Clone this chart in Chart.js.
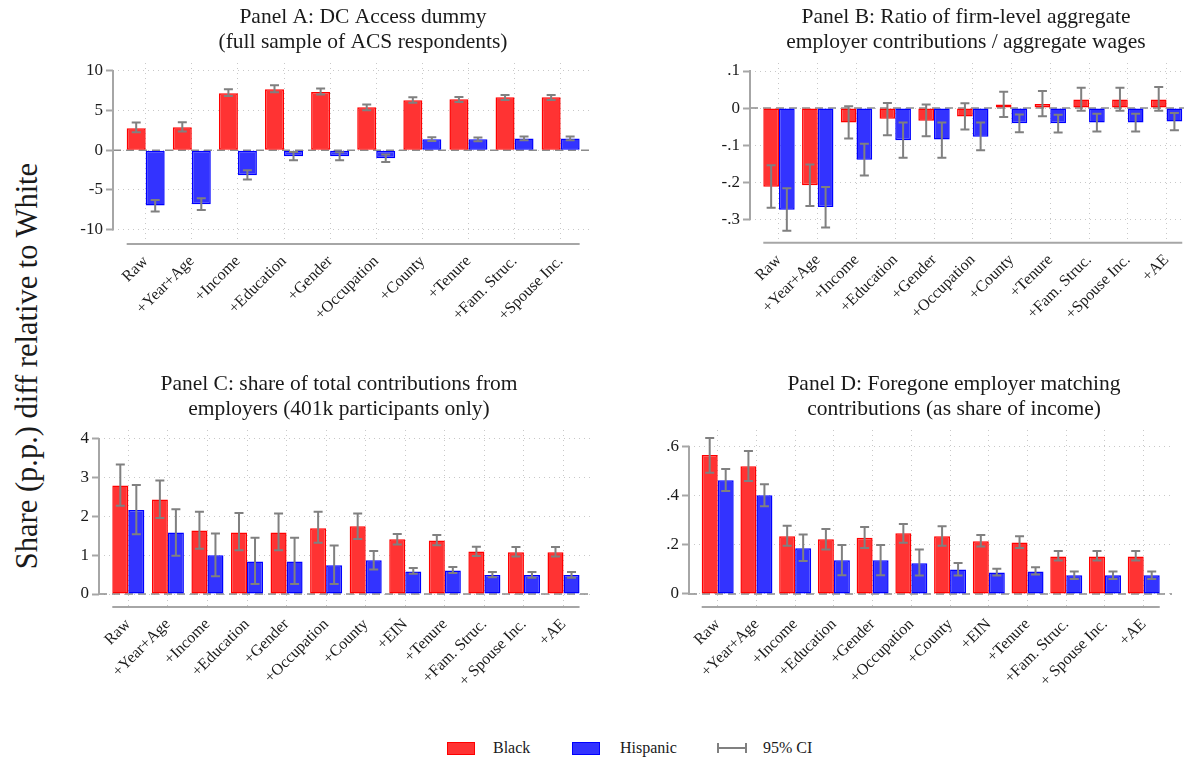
<!DOCTYPE html>
<html>
<head>
<meta charset="utf-8">
<script src="https://cdn.jsdelivr.net/npm/chart.js@4.4.1/dist/chart.umd.min.js"></script>
<style>
  html, body { margin: 0; padding: 0; background: #fff; overflow: hidden; }
  #page { position: relative; width: 1186px; height: 757px; overflow: hidden; font-family: "Liberation Serif", "Times New Roman", serif; color: #1a1a1a; }
  canvas.panel { position: absolute; }
  #ytitle { position: absolute; left: 27px; top: 366px; transform: translate(-50%, -50%) rotate(-90deg); font-size: 30.5px; white-space: nowrap; }
  .lg { position: absolute; font-size: 16px; line-height: 16px; top: 740px; }
  .lgbox { position: absolute; top: 742px; width: 26px; height: 11px; border: 1.5px solid; }
  .ci { position: absolute; left: 717px; top: 747px; width: 30px; height: 2px; background: #808080; }
  .ci::before, .ci::after { content: ""; position: absolute; top: -4px; width: 2px; height: 10px; background: #808080; }
  .ci::before { left: 0; }
  .ci::after { right: 0; }
</style>
</head>
<body>
<div id="page">
  <canvas id="panelA" class="panel" width="606" height="370" style="left:60px;top:0px"></canvas>
  <canvas id="panelB" class="panel" width="552" height="370" style="left:690px;top:0px"></canvas>
  <canvas id="panelC" class="panel" width="558" height="370" style="left:60px;top:367px"></canvas>
  <canvas id="panelD" class="panel" width="628" height="370" style="left:640px;top:367px"></canvas>
  <div id="ytitle">Share (p.p.) diff relative to White</div>
  <span class="lgbox" style="left:447px;background:#ff3333;border-color:#ff0000"></span>
  <span class="lg" style="left:493px">Black</span>
  <span class="lgbox" style="left:572px;background:#3333ff;border-color:#0000ff"></span>
  <span class="lg" style="left:620px">Hispanic</span>
  <span class="ci"></span>
  <span class="lg" style="left:763px">95% CI</span>
</div>

<script>
// ---- Categorias (rótulos do eixo x) ----
const labelsAB = ['Raw', '+Year+Age', '+Income', '+Education', '+Gender', '+Occupation',
                  '+County', '+Tenure', '+Fam. Struc.', '+Spouse Inc.'];
const labelsB = labelsAB.concat(['+AE']);
const labelsCD = ['Raw', '+Year+Age', '+Income', '+Education', '+Gender', '+Occupation',
                  '+County', '+EIN', '+Tenure', '+Fam. Struc.', '+ Spouse Inc.', '+AE'];

// ---- Panel A: DC Access dummy ----
const aBlack   = [2.77, 2.90, 7.18, 7.69, 7.35, 5.42, 6.30, 6.43, 6.68, 6.68];
const aBlackLo = [2.27, 2.35, 6.85, 7.31, 7.02, 5.04, 6.00, 6.09, 6.34, 6.34];
const aBlackHi = [3.49, 3.53, 7.69, 8.19, 7.77, 5.76, 6.68, 6.72, 6.97, 6.97];
const aHisp    = [-6.97, -6.80, -3.15, -0.76, -0.76, -1.00, 1.39, 1.39, 1.47, 1.47];
const aHispLo  = [-7.73, -7.52, -3.70, -1.26, -1.26, -1.47, 1.18, 1.13, 1.26, 1.26];
const aHispHi  = [-6.26, -6.05, -2.52, -0.21, -0.25, -0.55, 1.64, 1.60, 1.72, 1.72];

// ---- Panel B: ratio of employer contributions / wages ----
const bBlack   = [-0.212, -0.208, -0.039, -0.029, -0.034, -0.023, 0.010, 0.011, 0.023, 0.023, 0.023];
const bBlackLo = [-0.269, -0.264, -0.082, -0.073, -0.076, -0.058, -0.024, -0.022, -0.007, -0.007, -0.007];
const bBlackHi = [-0.154, -0.152, 0.005, 0.014, 0.010, 0.013, 0.044, 0.046, 0.055, 0.055, 0.057];
const bHisp    = [-0.274, -0.267, -0.139, -0.087, -0.085, -0.077, -0.041, -0.041, -0.039, -0.039, -0.036];
const bHispLo  = [-0.331, -0.322, -0.182, -0.134, -0.134, -0.114, -0.065, -0.066, -0.063, -0.063, -0.060];
const bHispHi  = [-0.216, -0.213, -0.096, -0.039, -0.039, -0.039, -0.017, -0.018, -0.015, -0.015, -0.013];

// ---- Panel C: share of contributions from employers ----
const cBlack   = [2.80, 2.44, 1.64, 1.59, 1.59, 1.70, 1.75, 1.41, 1.38, 1.10, 1.08, 1.08];
const cBlackLo = [2.28, 1.96, 1.17, 1.13, 1.13, 1.32, 1.42, 1.28, 1.26, 0.98, 0.97, 0.97];
const cBlackHi = [3.34, 2.93, 2.12, 2.09, 2.08, 2.12, 2.08, 1.55, 1.52, 1.22, 1.21, 1.21];
const cHisp    = [2.17, 1.59, 1.00, 0.84, 0.84, 0.74, 0.87, 0.58, 0.61, 0.49, 0.49, 0.49];
const cHispLo  = [1.54, 0.99, 0.46, 0.26, 0.26, 0.26, 0.63, 0.52, 0.54, 0.43, 0.42, 0.42];
const cHispHi  = [2.81, 2.19, 1.56, 1.45, 1.45, 1.25, 1.11, 0.67, 0.70, 0.57, 0.57, 0.57];

// ---- Panel D: foregone employer matching ----
const dBlack   = [0.566, 0.520, 0.235, 0.223, 0.229, 0.247, 0.235, 0.215, 0.210, 0.153, 0.153, 0.153];
const dBlackLo = [0.494, 0.460, 0.196, 0.181, 0.187, 0.209, 0.196, 0.193, 0.187, 0.136, 0.136, 0.136];
const dBlackHi = [0.635, 0.582, 0.278, 0.265, 0.273, 0.285, 0.276, 0.240, 0.235, 0.175, 0.175, 0.175];
const dHisp    = [0.463, 0.402, 0.186, 0.137, 0.137, 0.125, 0.100, 0.088, 0.092, 0.076, 0.076, 0.076];
const dHispLo  = [0.420, 0.357, 0.134, 0.076, 0.076, 0.075, 0.075, 0.075, 0.079, 0.061, 0.061, 0.061];
const dHispHi  = [0.509, 0.447, 0.242, 0.200, 0.200, 0.181, 0.126, 0.103, 0.109, 0.092, 0.092, 0.092];

const FONT = '"Liberation Serif", "Times New Roman", serif';
Chart.defaults.font.family = FONT;
Chart.defaults.color = '#1a1a1a';
const AXIS_GRAY = '#a6a6a6';

// Formato estilo Stata: ".1", "-.2"
function fmtTick(v) {
    let s = String(+v.toFixed(3));
    return s.replace(/^(-?)0\./, '$1.');
}

// Linha tracejada no zero
const zeroLine = {
    id: 'zeroLine',
    beforeDatasetsDraw(chart) {
        const {ctx, chartArea, scales} = chart;
        const y = scales.y.getPixelForValue(0);
        ctx.save();
        ctx.strokeStyle = '#8c8c8c';
        ctx.lineWidth = 1.5;
        ctx.setLineDash([8, 5]);
        ctx.beginPath();
        ctx.moveTo(chartArea.left, y);
        ctx.lineTo(chartArea.right, y);
        ctx.stroke();
        ctx.restore();
    }
};

// Eixos no estilo Stata: y só entre os ticks extremos, x só sob as barras
const stataAxes = {
    id: 'stataAxes',
    afterDraw(chart) {
        const {ctx, chartArea, scales} = chart;
        const yTicks = scales.y.ticks;
        const yTop = scales.y.getPixelForValue(yTicks[yTicks.length - 1].value);
        const yBot = scales.y.getPixelForValue(yTicks[0].value);
        const first = chart.getDatasetMeta(0).data[0];
        const lastMeta = chart.getDatasetMeta(chart.data.datasets.length - 1).data;
        const last = lastMeta[lastMeta.length - 1];
        ctx.save();
        ctx.strokeStyle = AXIS_GRAY;
        ctx.lineWidth = 2;
        ctx.beginPath();
        ctx.moveTo(chartArea.left, yTop - 1);
        ctx.lineTo(chartArea.left, yBot + 1);
        ctx.moveTo(first.x - first.width / 2, chartArea.bottom);
        ctx.lineTo(last.x + last.width / 2, chartArea.bottom);
        ctx.stroke();
        ctx.restore();
    }
};

// Barras de erro (IC 95%)
const errorBars = {
    id: 'errorBars',
    afterDatasetsDraw(chart) {
        const {ctx, scales} = chart;
        ctx.save();
        ctx.strokeStyle = '#808080';
        ctx.lineWidth = 2;
        chart.data.datasets.forEach((ds, di) => {
            const meta = chart.getDatasetMeta(di);
            meta.data.forEach((bar, i) => {
                const x = bar.x;
                const yLo = scales.y.getPixelForValue(ds.lo[i]);
                const yHi = scales.y.getPixelForValue(ds.hi[i]);
                ctx.beginPath();
                ctx.moveTo(x, yLo); ctx.lineTo(x, yHi);
                ctx.moveTo(x - 4.5, yLo); ctx.lineTo(x + 4.5, yLo);
                ctx.moveTo(x - 4.5, yHi); ctx.lineTo(x + 4.5, yHi);
                ctx.stroke();
            });
        });
        ctx.restore();
    }
};

function makePanel(cfg) {
    const toXY = arr => arr.map((v, i) => ({x: i + 1, y: v}));
    const barStyle = {
        borderWidth: 1.5,
        borderSkipped: false,
        categoryPercentage: cfg.catPct,
        barPercentage: 1.0
    };
    new Chart(document.getElementById(cfg.id), {
        type: 'bar',
        data: {
            datasets: [
                Object.assign({
                    label: 'Black', data: toXY(cfg.black), lo: cfg.blackLo, hi: cfg.blackHi,
                    backgroundColor: '#ff3333', borderColor: '#ff0000'
                }, barStyle),
                Object.assign({
                    label: 'Hispanic', data: toXY(cfg.hisp), lo: cfg.hispLo, hi: cfg.hispHi,
                    backgroundColor: '#3333ff', borderColor: '#0000ff'
                }, barStyle)
            ]
        },
        options: {
            responsive: false,
            animation: false,
            layout: { padding: 0 },
            plugins: {
                legend: { display: false },
                tooltip: { enabled: false },
                title: {
                    display: true,
                    text: cfg.title,
                    color: '#1a1a1a',
                    font: { size: 21.5, weight: 'normal', lineHeight: 1.2 },
                    padding: { top: 4, bottom: 7.4 }
                }
            },
            scales: {
                x: {
                    type: 'linear',
                    offset: false,
                    min: cfg.xMin,
                    max: cfg.xMax,
                    afterFit: s => { s.height = cfg.xH; },
                    grid: {
                        offset: false,
                        color: '#c8c8c8',
                        lineWidth: 1,
                        drawTicks: true,
                        tickLength: 4,
                        tickColor: 'rgba(0,0,0,0)'
                    },
                    border: { display: false, dash: [1, 4] },
                    ticks: {
                        stepSize: 1,
                        includeBounds: false,
                        autoSkip: false,
                        minRotation: 45,
                        maxRotation: 45,
                        padding: 4,
                        color: '#1a1a1a',
                        font: { size: 16 },
                        callback: v => cfg.labels[v - 1] || ''
                    }
                },
                y: {
                    min: cfg.yMin,
                    max: cfg.yMax,
                    afterFit: s => { s.width = cfg.yW; },
                    grid: {
                        color: '#c8c8c8',
                        lineWidth: 1,
                        tickLength: 7,
                        tickColor: AXIS_GRAY,
                        tickWidth: 2
                    },
                    border: { display: false, dash: [1, 4] },
                    ticks: {
                        stepSize: cfg.step,
                        includeBounds: false,
                        padding: 3,
                        color: '#1a1a1a',
                        font: { size: 17 },
                        callback: v => fmtTick(v)
                    }
                },
                // eixo vazio à direita: só reserva espaço para centralizar o título
                spacer: {
                    type: 'linear',
                    position: 'right',
                    afterFit: s => { s.width = cfg.padR; },
                    grid: { display: false },
                    border: { display: false },
                    ticks: { display: false }
                }
            }
        },
        plugins: [zeroLine, errorBars, stataAxes]
    });
}

makePanel({
    id: 'panelA', labels: labelsAB,
    title: ['Panel A: DC Access dummy', '(full sample of ACS respondents)'],
    black: aBlack, blackLo: aBlackLo, blackHi: aBlackHi,
    hisp: aHisp, hispLo: aHispLo, hispHi: aHispHi,
    yMin: -11.82, yMax: 11.0, step: 5, xMin: 0.291, xMax: 10.68,
    yW: 53, xH: 126, padR: 74, catPct: 0.824
});

makePanel({
    id: 'panelB', labels: labelsB,
    title: ['Panel B: Ratio of firm-level aggregate', 'employer contributions / aggregate wages'],
    black: bBlack, blackLo: bBlackLo, blackHi: bBlackHi,
    hisp: bHisp, hispLo: bHispLo, hispHi: bHispHi,
    yMin: -0.363, yMax: 0.1216, step: 0.1, xMin: 0.252, xMax: 11.45,
    yW: 60, xH: 127.3, padR: 58, catPct: 0.81
});

makePanel({
    id: 'panelC', labels: labelsCD,
    title: ['Panel C: share of total contributions from', 'employers (401k participants only)'],
    black: cBlack, blackLo: cBlackLo, blackHi: cBlackHi,
    hisp: cHisp, hispLo: cHispLo, hispHi: cHispHi,
    yMin: -0.335, yMax: 4.232, step: 1, xMin: 0.259, xMax: 12.72,
    yW: 39, xH: 130, padR: 26, catPct: 0.81
});

makePanel({
    id: 'panelD', labels: labelsCD,
    title: ['Panel D: Foregone employer matching', 'contributions (as share of income)'],
    black: dBlack, blackLo: dBlackLo, blackHi: dBlackHi,
    hisp: dHisp, hispLo: dHispLo, hispHi: dHispHi,
    yMin: -0.053, yMax: 0.668, step: 0.2, xMin: 0.259, xMax: 12.73,
    yW: 49, xH: 130, padR: 96, catPct: 0.826
});
</script>
</body>
</html>
